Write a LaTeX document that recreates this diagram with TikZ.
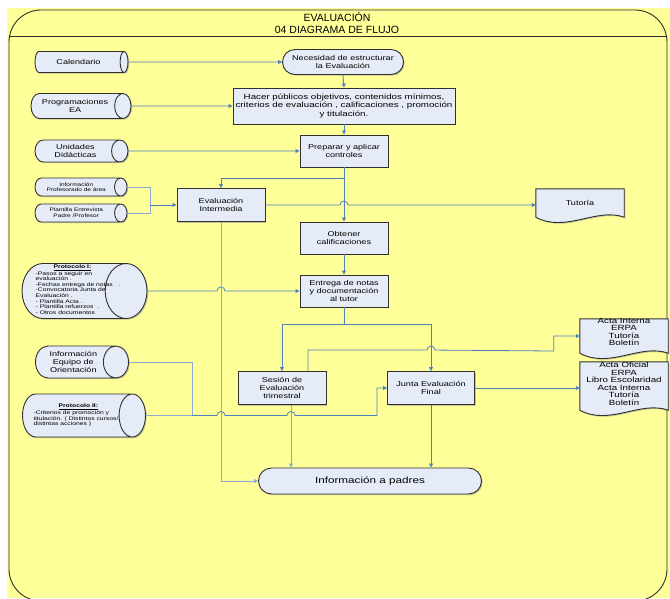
\documentclass[tikz,border=0pt]{standalone}
\usepackage{fontspec}
\setmainfont[FakeStretch=1.3]{Liberation Sans}
\newfontfamily\titulofont{Liberation Sans}
\usetikzlibrary{arrows.meta,positioning,shapes,calc,shadows}
\definecolor{fondo}{HTML}{FFFF99}
\definecolor{caja}{HTML}{E6ECF7}
\definecolor{borde}{HTML}{303030}
\definecolor{flujo}{HTML}{4F81BD}
\definecolor{flujoclaro}{HTML}{8EAAD2}
\newcommand{\fnormal}{\fontsize{7}{7.8}\selectfont}
\newcommand{\fchica}{\fontsize{5}{5.6}\selectfont}
\newcommand{\fmini}{\fontsize{5.2}{5.6}\selectfont}
\pgfdeclarelayer{capafondo}
\pgfdeclarelayer{capaformas}
\pgfsetlayers{capafondo,capaformas,main}
\tikzset{
  sombra/.style={drop shadow={shadow xshift=1.2pt,shadow yshift=-1.2pt,fill=black!45}},
  proceso/.style={draw=borde,fill=caja,line width=0.9pt,sombra,
                  minimum width=88pt,minimum height=32pt,
                  align=center,font=\fnormal,inner sep=1pt},
  terminal/.style={rounded rectangle,draw=borde,fill=caja,line width=0.9pt,sombra,
                   align=center,font=\fnormal,inner sep=1pt},
  almacen/.style={cylinder,aspect=1.1,anchor=shape center,draw=borde,fill=caja,line width=0.9pt,sombra,
                  align=center,font=\fnormal,inner sep=1pt},
  textoprot/.style={font=\fmini,align=left,inner sep=0pt},
  documento/.style={draw=none,minimum width=88pt,inner sep=0pt,font=\fnormal,align=center},
  docforma/.style={draw=borde,fill=caja,line width=0.9pt,sombra},
  flecha/.style={-{Triangle[length=4pt,width=4pt]},draw=flujo,line width=0.8pt},
  linea/.style={draw=flujo,line width=0.8pt},
  lineaclara/.style={draw=flujoclaro,line width=0.8pt}
}

\begin{document}
\begin{tikzpicture}[x=1pt,y=-1pt]
  \useasboundingbox (0,0) rectangle (670,598);
  \begin{pgfonlayer}{capafondo}
    \fill[fondo] (7,8) rectangle (670,598);
    \draw[borde,line width=0.9pt,rounded corners=32pt] (9,10) rectangle (667,601);
    \draw[borde,line width=0.9pt] (9,36) -- (667,36);
  \end{pgfonlayer}
  \node[font=\titulofont\fontsize{10.5}{11.5}\selectfont,align=center] (titulo) at (337,23) {EVALUACIÓN\\04 DIAGRAMA DE FLUJO};

  % entradas de la izquierda (en el cilindro: height = largo, width = alto)
  \node[almacen,minimum height=93pt,minimum width=21pt] (cal) at (81.5,62) {Calendario};
  \node[almacen,minimum height=100pt,minimum width=25pt] (prog) at (81,106) {Programaciones\\EA};
  \node[almacen,minimum height=93pt,minimum width=22pt] (unid) at (81.5,151) {Unidades\\Didácticas};
  \node[almacen,minimum height=92pt,minimum width=18pt,font=\fchica] (infprof) at (81,187) {Información\\Profesorado de área};
  \node[almacen,minimum height=92pt,minimum width=18pt,font=\fchica] (plant) at (81,213) {Plantilla Entrevista\\Padre /Profesor};
  \node[almacen,minimum height=125pt,minimum width=55pt] (prot1) at (84.5,291) {\rule{0pt}{36pt}};
  \node[textoprot] (prot1txt) at (78,289.5)
    {\hspace*{18pt}\underline{\textbf{Protocolo I:}}\\-Pasos a seguir en\\evaluación .\\-Fechas entrega de notas\ \ \ .\\-Convocatoria Junta de\\Evaluación .\\- Plantilla Acta .\\- Plantilla refuerzos\ \ .\\- Otros documentos};
  \node[almacen,minimum height=93pt,minimum width=32pt] (equipo) at (82,362) {Información\\Equipo de\\Orientación};
  \node[almacen,minimum height=123pt,minimum width=43pt] (prot2) at (84,415.5) {\rule{0pt}{22pt}};
  \node[textoprot] (prot2txt) at (76,415.5)
    {\hspace*{25pt}\underline{\textbf{Protocolo II:}}\\-Criterios de promoción y\\titulación. ( Distintos cursos/\\distintas acciones )};

  % flujo principal
  \node[terminal,minimum width=123pt,minimum height=25pt] (nec) at (343,62) {Necesidad de estructurar\\la Evaluación};
  \node[proceso,minimum width=222pt,minimum height=36pt,font=\fontsize{7.5}{8.8}\selectfont] (hacer) at (344,106) {Hacer públicos objetivos, contenidos mínimos,\\criterios de evaluación , calificaciones , promoción\\y titulación.};
  \node[proceso] (prep) at (344,151) {Preparar y aplicar\\controles};
  \node[proceso,minimum height=33pt] (ei) at (221,205) {Evaluación\\Intermedia};
  \node[proceso] (obt) at (344,238) {Obtener\\calificaciones};
  \node[proceso] (entr) at (344,291) {Entrega de notas\\y documentación\\al tutor};
  \node[proceso,minimum height=33pt] (ses) at (282,388) {Sesión de\\Evaluación\\trimestral};
  \node[proceso,minimum width=87pt,minimum height=33pt] (junta) at (431,388) {Junta Evaluación\\Final};
  \node[terminal,minimum width=225pt,minimum height=26pt,font=\fontsize{9}{10}\selectfont] (padres) at (370,481) {Información a padres};

  % documentos
  \node[documento,minimum height=28pt] (tut) at (580,203) {Tutoría};
  \node[documento,minimum height=34pt] (actaA) at (624,336) {};
  \node[documento,minimum height=48pt] (actaB) at (624,386) {};
  \begin{pgfonlayer}{capaformas}
    \foreach \d in {tut,actaA,actaB}
      \path[docforma] (\d.south west) -- (\d.north west) -- (\d.north east) -- (\d.south east)
        .. controls ($(\d.south east)+(-28,-10)$) and ($(\d.south west)+(30,16)$) .. (\d.south west) -- cycle;
  \end{pgfonlayer}
  \node[documento,font=\fontsize{7.5}{7.3}\selectfont] (actaAtxt) at (624,332) {Acta Interna\\ERPA\\Tutoría\\Boletín};
  \node[documento,font=\fontsize{7.5}{7.5}\selectfont] (actaBtxt) at (624,384) {Acta Oficial\\ERPA\\Libro Escolaridad\\Acta Interna\\Tutoría\\Boletín};

  % conectores
  \draw[flecha] (cal.east) -- (nec.west);
  \draw[flecha] (prog.east) -- (hacer.west);
  \draw[flecha] (nec.south) -- (hacer.north);
  \draw[flecha] (unid.east) -- (prep.west);
  \draw[flecha] (hacer.south) -- (prep.north);
  \coordinate (union) at (150,205);
  \draw[lineaclara] (infprof.east) -| (union);
  \draw[lineaclara] (plant.east) -| (union);
  \draw[flecha] (union) -- (ei.west);
  \draw[flecha] (prep.south) -- (obt.north);
  \draw[flecha] ($(prep.south)+(0,11)$) -| (ei.north);
  \draw[flecha] (ei.east) -- ($(ei.east -| prep.south)+(-4,0)$) arc[start angle=180,end angle=0,radius=4pt]
    -- (ei.east -| tut.west);
  \draw[flecha] (obt.south) -- (entr.north);
  \draw[flecha] (prot1.east) -- ($(prot1.east -| ei.south)+(-4,0)$) arc[start angle=180,end angle=0,radius=4pt]
    -- (prot1.east -| entr.west);
  \draw[flecha,draw=flujoclaro] (ei.south) |- (padres.west);
  \draw[flecha] (entr.south) -- ++(0,17) -| (ses.north);
  \draw[flecha] ($(entr.south)+(0,17)$) -| (junta.north);
  \draw[flecha] ($(ses.north)+(26,0)$) -- ++(0,-21) -- ($(junta.north)+(-4,-21)$)
    arc[start angle=180,end angle=0,radius=4pt] -- ($(actaA.west)+(-26,15)$) |- (actaA.west);
  \draw[flecha] (junta.east) -- (junta.east -| actaB.west);
  \draw[flecha,draw=flujoclaro] ($(ses.south)+(9,0)$) coordinate (sb) -- (sb |- padres.north);
  \draw[flecha] (junta.south) -- (junta.south |- padres.north);
  \coordinate (cruce) at (192,415.5);
  \draw[lineaclara] (equipo.east) -| (cruce);
  \draw[lineaclara] (prot2.east) -- (cruce);
  \draw[flecha] (cruce) -- ($(cruce -| ei.south)+(-4,0)$) arc[start angle=180,end angle=0,radius=4pt]
    -- ($(cruce -| sb)+(-4,0)$) arc[start angle=180,end angle=0,radius=4pt]
    -- ($(cruce -| junta.west)+(-10,0)$) |- (junta.west);
\end{tikzpicture}
\end{document}
